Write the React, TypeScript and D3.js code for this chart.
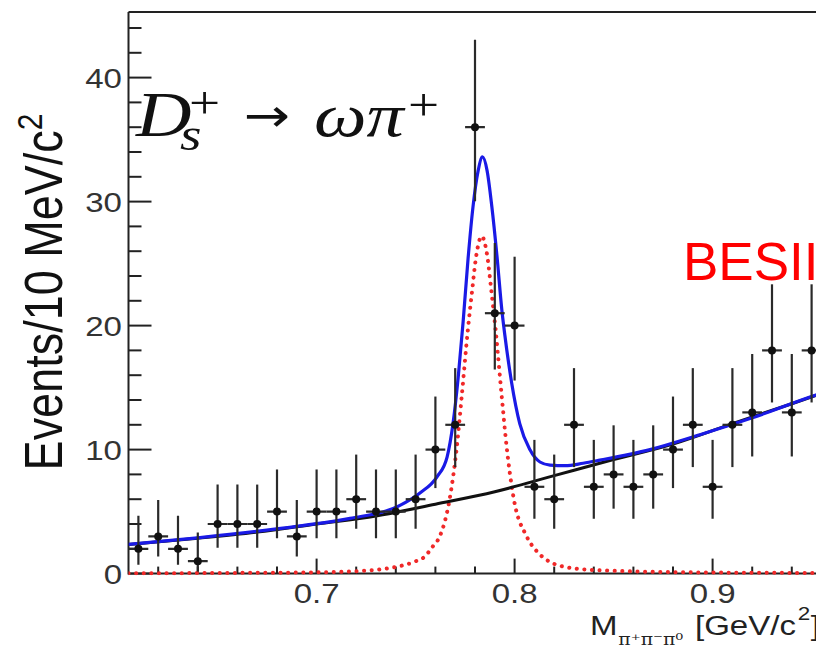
import React from "react";
import * as d3 from "d3";

// ---- data ----
const binCenters = [0.61, 0.62, 0.63, 0.64, 0.65, 0.66, 0.67, 0.68, 0.69, 0.70, 0.71, 0.72, 0.73, 0.74, 0.75, 0.76, 0.77, 0.78, 0.79, 0.80, 0.81, 0.82, 0.83, 0.84, 0.85, 0.86, 0.87, 0.88, 0.89, 0.90, 0.91, 0.92, 0.93, 0.94, 0.95];
const counts = [2, 3, 2, 1, 4, 4, 4, 5, 3, 5, 5, 6, 5, 5, 6, 10, 12, 36, 21, 20, 7, 6, 12, 7, 8, 7, 8, 10, 12, 7, 12, 13, 18, 13, 18];

const bkgMass = [0.605, 0.64, 0.67, 0.70, 0.73, 0.76, 0.79, 0.82, 0.85, 0.88, 0.91, 0.94, 0.96];
const bkgVal = [2.35, 2.85, 3.35, 4.0, 4.65, 5.6, 6.6, 7.9, 9.2, 10.45, 12.1, 13.7, 14.8];

const sigMass = [0.605, 0.65, 0.6996, 0.7203, 0.7405, 0.7501, 0.7541, 0.7587, 0.7622, 0.7674, 0.7708, 0.7733, 0.7763, 0.7786, 0.7806, 0.7834, 0.7862, 0.7882, 0.7905, 0.7935, 0.796, 0.7994, 0.8061, 0.8112, 0.8162, 0.8238, 0.839, 0.8895, 0.96];
const sigVal = [0.02, 0.05, 0.1, 0.2, 0.55, 1.0, 1.3, 2.2, 3.0, 6.2, 10.2, 14.3, 19.5, 22.9, 25.6, 27.2, 25.6, 22.9, 19.5, 14.3, 10.2, 6.2, 3.0, 1.8, 1.1, 0.6, 0.3, 0.1, 0.05];

const totMass = [0.605, 0.6411, 0.6916, 0.7169, 0.7421, 0.7522, 0.7608, 0.7659, 0.7689, 0.7715, 0.774, 0.7765, 0.779, 0.7816, 0.7838, 0.7861, 0.7885, 0.7911, 0.7936, 0.7951, 0.7985, 0.8026, 0.8077, 0.8128, 0.8179, 0.8255, 0.8346, 0.8431, 0.8684, 0.8936, 0.9189, 0.9522, 0.96];
const totVal = [2.35, 2.9, 3.85, 4.45, 5.5, 6.5, 7.8, 9.4, 12.1, 15.8, 20.3, 25.4, 29.6, 32.5, 33.6, 32.5, 29.6, 25.6, 21.2, 19.2, 15.4, 12.1, 10.0, 9.0, 8.75, 8.7, 8.9, 9.15, 10.0, 11.2, 12.5, 14.4, 14.8];

const yMajorTicks = [0, 10, 20, 30, 40];
const yTickLabels = ["0", "10", "20", "30", "40"];
const yMinorTicks = [2, 4, 6, 8, 12, 14, 16, 18, 22, 24, 26, 28, 32, 34, 36, 38, 42, 44];
const xMajorTicks = [0.7, 0.8, 0.9];
const xTickLabels = ["0.7", "0.8", "0.9"];
const xMinorTicks = [0.62, 0.64, 0.66, 0.68, 0.72, 0.74, 0.76, 0.78, 0.82, 0.84, 0.86, 0.88, 0.92, 0.94];
const binWidth = 0.01;

// Poisson (Gehrels) 1-sigma interval for a count
const poissonLow = (n: number) => (n <= 0 ? 0 : n * Math.pow(1 - 1 / (9 * n) - 1 / (3 * Math.sqrt(n)), 3));
const poissonHigh = (n: number) => n + Math.sqrt(n + 0.75) + 1;

const W = 816;
const H = 648;
const left = 128.5;
const top = 12;
const bottom = 573.6;
const pxPerGeV = 1980;

export default function App() {
  const x = d3.scaleLinear().domain([0.605, 0.605 + (W - left) / pxPerGeV]).range([left, W]);
  const y = d3.scaleLinear().domain([0, (bottom - top) / 12.4]).range([bottom, top]);

  const line = (ms: number[], vs: number[]) =>
    d3
      .line<number>()
      .x((_, i) => x(ms[i]))
      .y((_, i) => y(vs[i]))
      .curve(d3.curveMonotoneX)(vs) || "";

  const sans = "'Liberation Sans', Arial, Helvetica, sans-serif";
  const serif = "'Liberation Serif', 'Times New Roman', serif";
  const sx = 1.18;
  const lx = (X: number) => (X - 136) / 1.2;

  return (
    <svg width={W} height={H} style={{ position: "absolute", left: 0, top: 0, background: "#fff" }}>
      <defs>
        <clipPath id="plot">
          <rect x={left} y={top} width={W - left} height={bottom - top + 2} />
        </clipPath>
      </defs>

      {/* frame */}
      <line x1={left} x2={left} y1={top} y2={bottom + 1} stroke="#222" strokeWidth={2} />
      <line x1={left} x2={W} y1={top} y2={top} stroke="#222" strokeWidth={2} />
      <line x1={left} x2={W} y1={bottom} y2={bottom} stroke="#222" strokeWidth={2} />

      {/* y ticks */}
      {yMajorTicks.map((t) => (
        <line key={"ym" + t} x1={left} x2={left + 23} y1={y(t)} y2={y(t)} stroke="#222" strokeWidth={2} />
      ))}
      {yMinorTicks.map((t) => (
        <line key={"yn" + t} x1={left} x2={left + 13} y1={y(t)} y2={y(t)} stroke="#222" strokeWidth={2} />
      ))}
      {yMajorTicks.map((t, i) => (
        <text key={"yl" + t} transform={`translate(122,${y(t) + 10}) scale(${sx},1)`} textAnchor="end" fontFamily={sans} fontSize={28} fill="#333">
          {yTickLabels[i]}
        </text>
      ))}

      {/* x ticks */}
      {xMajorTicks.map((t) => (
        <line key={"xm" + t} x1={x(t)} x2={x(t)} y1={bottom} y2={bottom - 15} stroke="#222" strokeWidth={2} />
      ))}
      {xMinorTicks.map((t) => (
        <line key={"xn" + t} x1={x(t)} x2={x(t)} y1={bottom} y2={bottom - 7} stroke="#222" strokeWidth={2} />
      ))}
      {xMajorTicks.map((t, i) => (
        <text key={"xl" + t} transform={`translate(${x(t)},603) scale(${sx},1)`} textAnchor="middle" fontFamily={sans} fontSize={28} fill="#333">
          {xTickLabels[i]}
        </text>
      ))}

      {/* axis titles */}
      <text transform={`translate(62,292) scale(${sx},1) rotate(-90)`} textAnchor="middle" fontFamily={sans} fontSize={45} fill="#111">
        Events/10 MeV/c
        <tspan fontSize={30} dy={-17}>2</tspan>
      </text>
      <g transform={`translate(590,0) scale(${sx},1)`}>
        <text fontFamily={sans} fontSize={28} fill="#222">
          <tspan x={0} y={635}>M</tspan>
          <tspan x={24} y={645} fontFamily="'DejaVu Serif', serif" fontSize={16}>π⁺π⁻π⁰</tspan>
          <tspan x={89} y={635}>[GeV/c</tspan>
          <tspan x={176} y={620} fontSize={19}>2</tspan>
          <tspan x={187} y={635}>]</tspan>
        </text>
      </g>

      {/* curves */}
      <g clipPath="url(#plot)">
        <path d={line(sigMass, sigVal)} fill="none" stroke="#f02828" strokeWidth={4} strokeDasharray="0.1 7.5" strokeLinecap="round" />
        <path d={line(bkgMass, bkgVal)} fill="none" stroke="#111" strokeWidth={3} />
        <path d={line(totMass, totVal)} fill="none" stroke="#1a1ae6" strokeWidth={3.2} />
      </g>

      {/* data points */}
      <g clipPath="url(#plot)">
        {counts.map((n, i) => {
          const cx = x(binCenters[i]);
          const cy = y(n);
          return (
            <g key={"p" + i}>
              <line x1={cx} x2={cx} y1={y(poissonLow(n))} y2={y(poissonHigh(n))} stroke="#2a2a2a" strokeWidth={2.2} />
              <line x1={x(binCenters[i] - binWidth / 2)} x2={x(binCenters[i] + binWidth / 2)} y1={cy} y2={cy} stroke="#2a2a2a" strokeWidth={2.2} />
              <circle cx={cx} cy={cy} r={4} fill="#111" />
            </g>
          );
        })}
      </g>

      {/* labels */}
      <text x={683} y={280} fontFamily={sans} fontSize={53} fill="#ff0000">BESIII</text>

      <g transform="translate(136,0) scale(1.2,1)">
        <text fontFamily={serif} fill="#111">
          <tspan x={0} y={136} fontStyle="italic" fontSize={64}>D</tspan>
          <tspan x={lx(180)} y={150} fontStyle="italic" fontSize={46}>s</tspan>
          <tspan x={lx(189)} y={118} fontSize={46}>+</tspan>
          <tspan x={lx(244)} y={131} fontFamily="'DejaVu Sans', sans-serif" fontSize={46}>→</tspan>
          <tspan x={lx(314)} y={136} fontStyle="italic" fontSize={62}>ωπ</tspan>
          <tspan x={lx(408)} y={120} fontSize={46}>+</tspan>
        </text>
      </g>
    </svg>
  );
}
